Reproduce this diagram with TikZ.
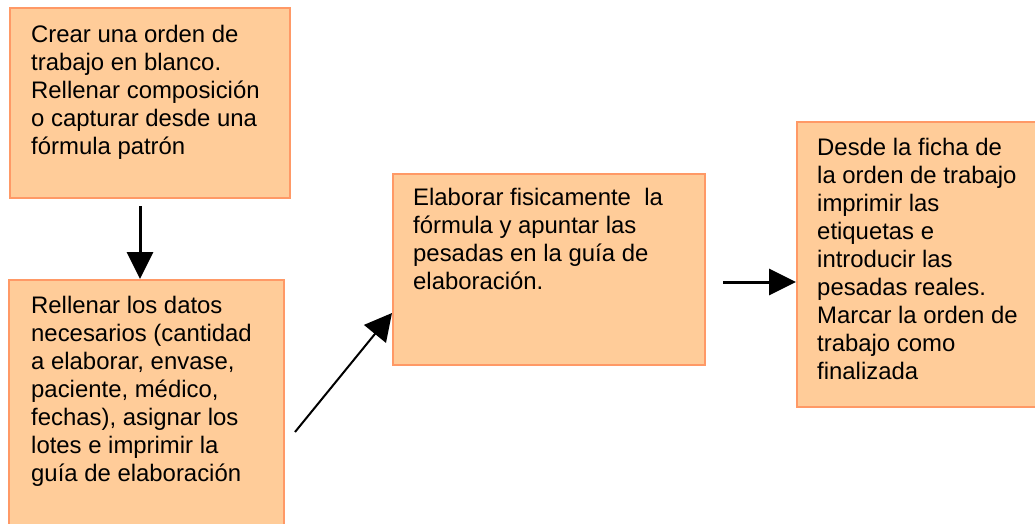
\documentclass[tikz,border=0pt]{standalone}
\usepackage{fontspec}
\setmainfont{Liberation Sans}
\usetikzlibrary{arrows.meta}
\definecolor{boxfill}{HTML}{FFCC99}
\definecolor{boxline}{HTML}{FF9966}
\newcommand{\topstrut}{\rule{0pt}{18pt}}
\tikzset{
  box/.style={draw=boxline, fill=boxfill, line width=2pt, rectangle, anchor=north west, inner sep=0pt},
  txt/.style={anchor=north west, align=left, inner sep=0pt, font=\fontsize{23.9pt}{28pt}\selectfont},
  arr/.style={line width=3pt, -{Triangle[length=27pt,width=26pt]}},
  arrthin/.style={line width=2pt, -{Triangle[length=27pt,width=28pt]}}
}
\begin{document}
\begin{tikzpicture}[x=1pt,y=-1pt]
\useasboundingbox (0,0) rectangle (1035,524);
\clip (0,0) rectangle (1035,524);
\fill[white] (0,0) rectangle (1035,524);
\node[box, minimum width=280pt, minimum height=190pt] (b1) at (9,7) {};
\node[box, minimum width=275pt, minimum height=270pt] (b2) at (8,279) {};
\node[box, minimum width=312pt, minimum height=191pt] (b3) at (392,173) {};
\node[box, minimum width=262pt, minimum height=285pt] (b4) at (796,121) {};
\node[txt] (t1) at (31,24) {\topstrut Crear una orden de\\trabajo en blanco.\\Rellenar composición\\o capturar desde una\\fórmula patrón};
\node[txt] (t2) at (31,295) {\topstrut Rellenar los datos\\necesarios (cantidad\\a elaborar, envase,\\paciente, médico,\\fechas), asignar los\\lotes e imprimir la\\guía de elaboración};
\node[txt] (t3) at (413,187) {\topstrut Elaborar fisicamente\ \ la\\fórmula y apuntar las\\pesadas en la guía de\\elaboración.};
\node[txt] (t4) at (817,137) {\topstrut Desde la ficha de\\la orden de trabajo\\imprimir las\\etiquetas e\\introducir las\\pesadas reales.\\Marcar la orden de\\trabajo como\\finalizada};
\coordinate (a1s) at (140,206);
\coordinate (a2s) at (295,432);
\coordinate (a3s) at (723,282);
\draw[arr] (a1s) -- (a1s |- b2.north);
\draw[arrthin] (a2s) -- ([yshift=-43.5pt]b3.west);
\draw[arr] (a3s) -- (a3s -| b4.west);
\end{tikzpicture}
\end{document}
